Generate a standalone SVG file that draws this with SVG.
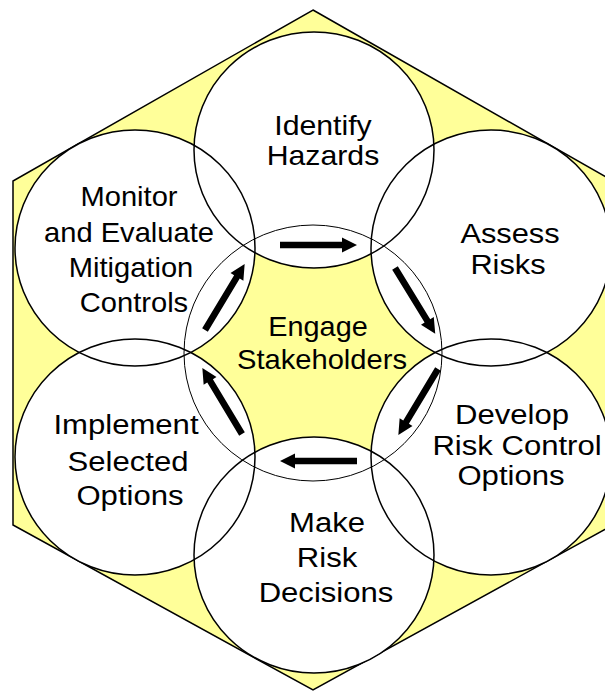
<svg xmlns="http://www.w3.org/2000/svg" xmlns:xlink="http://www.w3.org/1999/xlink" width="605" height="692" viewBox="0 0 605 692">
  <style>
    .hex { fill: #ffff99; stroke: #000; stroke-width: 1.5; }
    .fill { fill: #fff; stroke: none; }
    .ring { fill: none; stroke: #000; stroke-width: 1.5; }
    .hub { fill: none; stroke: #000; stroke-width: 1; }
    .lbl { font-family: "Liberation Sans", Arial, sans-serif; font-size: 28px; fill: #000; text-anchor: middle; }
    .arrow { fill: #000; }
  </style>
  <defs>
    <path id="arrow" d="M0,-3.3 H62 V-7.5 L77,0 L62,7.5 V3.3 H0 Z"/>
  </defs>

  <polygon class="hex" points="313,10 613,181 613,525 313,690 13,525 13,181"/>

  <g id="circle-fills">
    <ellipse class="fill" cx="314" cy="150" rx="120" ry="118"/>
    <ellipse class="fill" cx="491" cy="248" rx="120" ry="118"/>
    <ellipse class="fill" cx="491" cy="457" rx="120" ry="118"/>
    <ellipse class="fill" cx="314" cy="555" rx="120" ry="118"/>
    <ellipse class="fill" cx="135" cy="457" rx="120" ry="118"/>
    <ellipse class="fill" cx="135" cy="248" rx="120" ry="118"/>
  </g>

  <g id="identify-hazards">
    <ellipse class="ring" cx="314" cy="150" rx="120" ry="118"/>
    <text class="lbl" transform="translate(323,135) scale(1.08,1)">Identify</text>
    <text class="lbl" transform="translate(323,165) scale(1.08,1)">Hazards</text>
  </g>

  <g id="assess-risks">
    <ellipse class="ring" cx="491" cy="248" rx="120" ry="118"/>
    <text class="lbl" transform="translate(510,243) scale(1.1,1)">Assess</text>
    <text class="lbl" transform="translate(508,274) scale(1.1,1)">Risks</text>
  </g>

  <g id="develop-options">
    <ellipse class="ring" cx="491" cy="457" rx="120" ry="118"/>
    <text class="lbl" transform="translate(512,424) scale(1.11,1)">Develop</text>
    <text class="lbl" transform="translate(517,454.5) scale(1.11,1)">Risk Control</text>
    <text class="lbl" transform="translate(511,485) scale(1.11,1)">Options</text>
  </g>

  <g id="make-decisions">
    <ellipse class="ring" cx="314" cy="555" rx="120" ry="118"/>
    <text class="lbl" transform="translate(327,532) scale(1.11,1)">Make</text>
    <text class="lbl" transform="translate(327,567) scale(1.11,1)">Risk</text>
    <text class="lbl" transform="translate(326,602) scale(1.11,1)">Decisions</text>
  </g>

  <g id="implement-options">
    <ellipse class="ring" cx="135" cy="457" rx="120" ry="118"/>
    <text class="lbl" transform="translate(126,434) scale(1.11,1)">Implement</text>
    <text class="lbl" transform="translate(128,471) scale(1.11,1)">Selected</text>
    <text class="lbl" transform="translate(130,505) scale(1.11,1)">Options</text>
  </g>

  <g id="monitor-evaluate">
    <ellipse class="ring" cx="135" cy="248" rx="120" ry="118"/>
    <text class="lbl" transform="translate(129,206) scale(1.04,1)">Monitor</text>
    <text class="lbl" transform="translate(129,242) scale(1.04,1)">and Evaluate</text>
    <text class="lbl" transform="translate(131,277) scale(1.04,1)">Mitigation</text>
    <text class="lbl" transform="translate(134,312) scale(1.04,1)">Controls</text>
  </g>

  <g id="engage-stakeholders">
    <ellipse class="hub" cx="313" cy="353" rx="129" ry="128"/>
    <text class="lbl" transform="translate(318,336) scale(1.03,1)">Engage</text>
    <text class="lbl" transform="translate(322,369) scale(1.04,1)">Stakeholders</text>
  </g>

  <g id="connectors">
    <use class="arrow" xlink:href="#arrow" transform="translate(280,245) rotate(0)"/>
    <use class="arrow" xlink:href="#arrow" transform="translate(395,268) rotate(58.5)"/>
    <use class="arrow" xlink:href="#arrow" transform="translate(438,369) rotate(121)"/>
    <use class="arrow" xlink:href="#arrow" transform="translate(357,461) rotate(180)"/>
    <use class="arrow" xlink:href="#arrow" transform="translate(242,434) rotate(239)"/>
    <use class="arrow" xlink:href="#arrow" transform="translate(205,330) rotate(-59)"/>
  </g>
</svg>
